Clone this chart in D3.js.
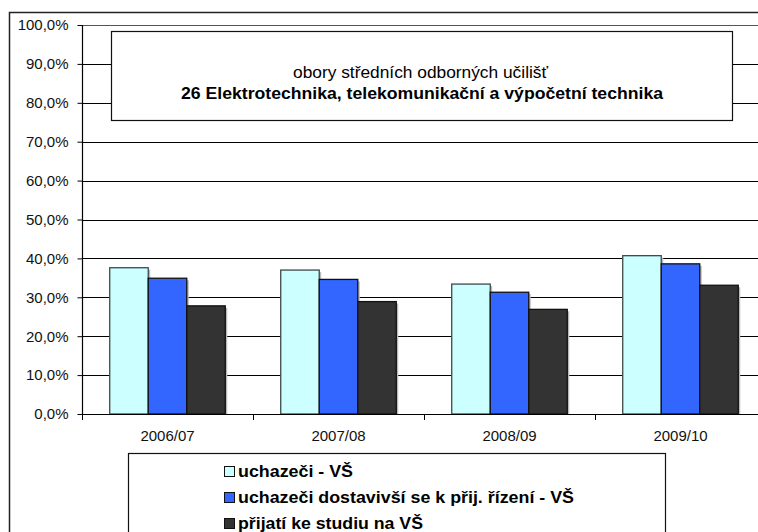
<!DOCTYPE html>
<html>
<head>
<meta charset="utf-8">
<script src="https://cdn.jsdelivr.net/npm/d3@7"></script>
<style>
body { margin: 0; background: #fff; }
svg { display: block; font-family: "Liberation Sans", Arial, sans-serif; }
</style>
</head>
<body>
<svg width="758" height="532"></svg>
<script>
// data
var categories = ["2006/07", "2007/08", "2008/09", "2009/10"];
var seriesNames = ["uchazeči - VŠ", "uchazeči dostavivší se k přij. řízení - VŠ", "přijatí ke studiu na VŠ"];
var uchazeci = [0.376, 0.370, 0.334, 0.407];
var dostavivsi = [0.349, 0.346, 0.313, 0.386];
var prijati = [0.278, 0.289, 0.269, 0.331];
var yTicks = [0, 0.1, 0.2, 0.3, 0.4, 0.5, 0.6, 0.7, 0.8, 0.9, 1.0];
var titleLine1 = "obory středních odborných učilišť";
var titleLine2 = "26 Elektrotechnika, telekomunikační a výpočetní technika";

var colors = ["#ccffff", "#3366ff", "#333333"];
var strokes = ["#3d4a4a", "#111", "#111"];
var values = [uchazeci, dostavivsi, prijati];

var svg = d3.select("svg");

// outer frame (right and bottom edges are outside the picture)
svg.append("rect")
    .attr("x", 9.5).attr("y", 12.5)
    .attr("width", 800).attr("height", 600)
    .attr("fill", "none").attr("stroke", "#222").attr("stroke-width", 1.5);

var x = d3.scaleBand().domain(categories).range([82, 766]);
var xs = d3.scaleBand().domain(d3.range(3)).range([0, x.bandwidth()]).paddingOuter(0.72);
var y = d3.scaleLinear().domain([0, 1]).range([414, 25]);

// gridlines
svg.append("g").selectAll("line")
    .data(yTicks.slice(1))
    .enter().append("line")
    .attr("x1", 82).attr("x2", 758)
    .attr("y1", function (d) { return Math.round(y(d)) + 0.5; })
    .attr("y2", function (d) { return Math.round(y(d)) + 0.5; })
    .attr("stroke", function (d) { return d === 1 ? "#555" : "#000"; })
    .attr("stroke-width", 1.2);

// y axis
var yAxis = svg.append("g")
    .attr("transform", "translate(82.5,0)")
    .call(d3.axisLeft(y).tickValues(yTicks).tickSize(5).tickPadding(9)
        .tickFormat(function (d) { return d3.format(".1f")(d * 100).replace(".", ",") + "%"; }));
yAxis.select(".domain").attr("stroke", "#000").attr("stroke-width", 1.2).attr("d", "M0," + y(1) + "V" + y(0));
yAxis.selectAll(".tick line").attr("stroke", "#000");
yAxis.selectAll(".tick text").attr("font-size", "15px").attr("fill", "#111")
    .attr("font-family", "Liberation Sans, Arial, sans-serif");

// bars
var groups = svg.append("g").selectAll("g")
    .data(categories)
    .enter().append("g")
    .attr("transform", function (d) { return "translate(" + x(d) + ",0)"; });

groups.selectAll("rect.shadow")
    .data(function (d, i) { return values.map(function (v, s) { return { s: s, v: v[i] }; }); })
    .enter().append("rect")
    .attr("class", "shadow")
    .attr("x", function (d) { return xs(d.s) + 2; })
    .attr("y", function (d) { return y(d.v) + 2; })
    .attr("width", xs.bandwidth())
    .attr("height", function (d) { return y(0) - y(d.v) - 2; })
    .attr("fill", "#bbb");

groups.selectAll("rect.bar")
    .data(function (d, i) { return values.map(function (v, s) { return { s: s, v: v[i] }; }); })
    .enter().append("rect")
    .attr("class", "bar")
    .attr("x", function (d) { return xs(d.s); })
    .attr("y", function (d) { return y(d.v); })
    .attr("width", xs.bandwidth())
    .attr("height", function (d) { return y(0) - y(d.v); })
    .attr("fill", function (d) { return colors[d.s]; })
    .attr("stroke", function (d) { return strokes[d.s]; })
    .attr("stroke-width", 1.3);

// x axis
var xAxis = svg.append("g")
    .attr("transform", "translate(0," + (y(0) + 0.5) + ")")
    .call(d3.axisBottom(x).tickSize(0).tickPadding(16));
xAxis.select(".domain").attr("stroke", "#000").attr("stroke-width", 1.2).attr("d", "M82,0H758");
xAxis.selectAll(".tick text").attr("font-size", "15px").attr("fill", "#111")
    .attr("font-family", "Liberation Sans, Arial, sans-serif");
svg.append("g").selectAll("line")
    .data(categories)
    .enter().append("line")
    .attr("x1", function (d) { return Math.round(x(d)) + 0.5; })
    .attr("x2", function (d) { return Math.round(x(d)) + 0.5; })
    .attr("y1", y(0)).attr("y2", y(0) + 6)
    .attr("stroke", "#000");

// title box
svg.append("rect")
    .attr("x", 111.5).attr("y", 31.5)
    .attr("width", 621).attr("height", 89)
    .attr("fill", "#fff").attr("stroke", "#111").attr("stroke-width", 1.2);
svg.append("text")
    .attr("x", 420.5).attr("y", 78)
    .attr("text-anchor", "middle")
    .attr("font-size", "16px")
    .attr("textLength", 255).attr("lengthAdjust", "spacingAndGlyphs")
    .text(titleLine1);
svg.append("text")
    .attr("x", 422).attr("y", 98.5)
    .attr("text-anchor", "middle")
    .attr("font-size", "16px").attr("font-weight", "bold")
    .attr("textLength", 482).attr("lengthAdjust", "spacingAndGlyphs")
    .text(titleLine2);

// legend
svg.append("rect")
    .attr("x", 128.5).attr("y", 453.5)
    .attr("width", 537).attr("height", 100)
    .attr("fill", "#fff").attr("stroke", "#111").attr("stroke-width", 1.2);
var legendY = d3.scalePoint().domain(d3.range(3)).range([471, 523]);
var legendWidths = [115, 336, 185];
var legend = svg.append("g").selectAll("g")
    .data(seriesNames)
    .enter().append("g")
    .attr("transform", function (d, i) { return "translate(224," + legendY(i) + ")"; });
legend.append("rect")
    .attr("x", 0.5).attr("y", -4.5)
    .attr("width", 10).attr("height", 10)
    .attr("fill", function (d, i) { return colors[i]; })
    .attr("stroke", "#111");
legend.append("text")
    .attr("x", 14).attr("y", 6)
    .attr("font-size", "16px").attr("font-weight", "bold")
    .attr("textLength", function (d, i) { return legendWidths[i]; })
    .attr("lengthAdjust", "spacingAndGlyphs")
    .text(function (d) { return d; });
</script>
</body>
</html>
